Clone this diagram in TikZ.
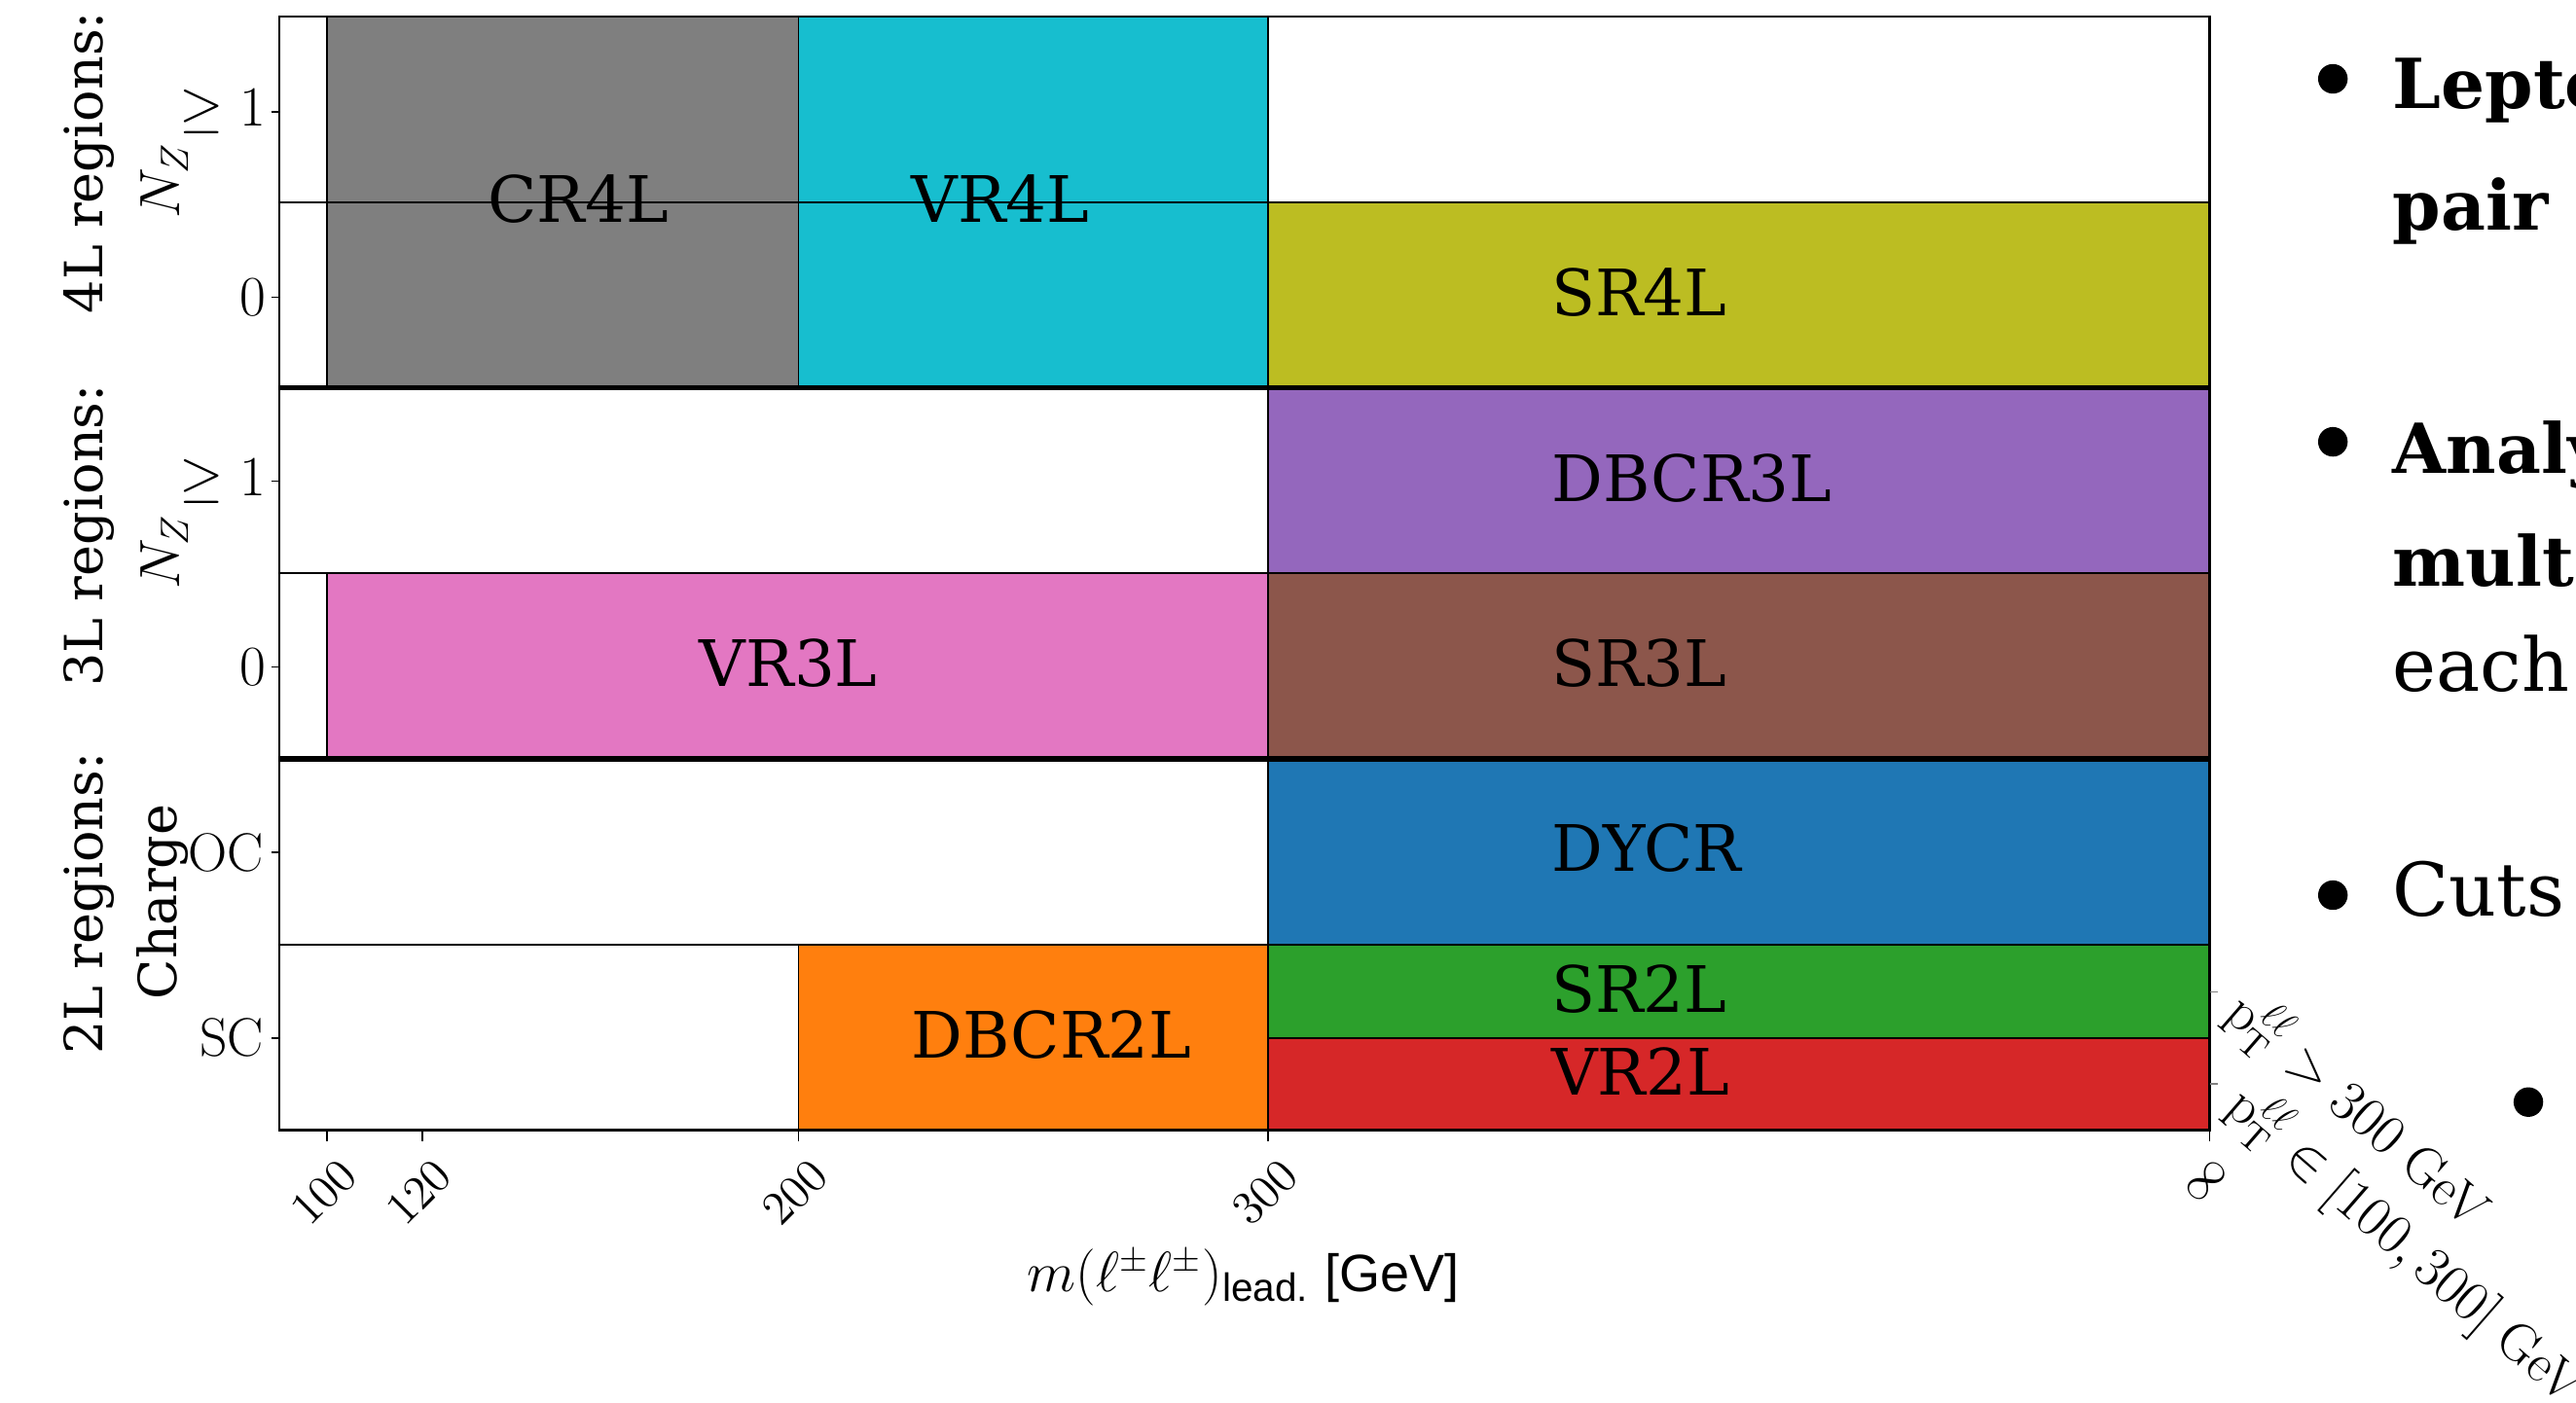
\documentclass[tikz,border=0pt]{standalone}
\usepackage{fontspec}
\newfontfamily\djs{DejaVu Serif}
\newfontfamily\lsans{Liberation Sans}
\definecolor{cgray}{HTML}{7F7F7F}
\definecolor{ccyan}{HTML}{17BECF}
\definecolor{colive}{HTML}{BCBD22}
\definecolor{cpurple}{HTML}{9467BD}
\definecolor{cpink}{HTML}{E377C2}
\definecolor{cbrown}{HTML}{8C564B}
\definecolor{cblue}{HTML}{1F77B4}
\definecolor{corange}{HTML}{FF7F0E}
\definecolor{cgreen}{HTML}{2CA02C}
\definecolor{cred}{HTML}{D62728}
\tikzset{
  region/.style={draw=black, line width=0.5pt},
  thinsep/.style={draw=black, line width=0.6pt},
  thicksep/.style={draw=black, line width=1.6pt},
  frame/.style={draw=black, line width=0.8pt},
  tickmark/.style={draw=black, line width=0.5pt},
  rlabel/.style={font=\djs\fontsize{19.5}{22}\selectfont, inner sep=0pt},
  ytick/.style={font=\fontsize{16.5}{19}\selectfont, anchor=east, inner sep=0pt},
  xtick/.style={font=\fontsize{15}{17}\selectfont, rotate=45, inner sep=0pt},
  grouplab/.style={font=\djs\fontsize{16}{19}\selectfont, rotate=90, inner sep=0pt},
  mathlab/.style={font=\fontsize{16.5}{19}\selectfont, rotate=90, inner sep=0pt},
  ptlab/.style={font=\fontsize{16.5}{19}\selectfont, rotate=-41, anchor=west, inner sep=0pt},
  boldtxt/.style={font=\djs\bfseries\fontsize{21}{25}\selectfont, anchor=base west, inner sep=0pt},
  regtxt/.style={font=\djs\fontsize{22.5}{27}\selectfont, anchor=base west, inner sep=0pt},
  bulletdot/.style={fill=black, circle, inner sep=0pt, minimum size=9pt}
}
\begin{document}
\begin{tikzpicture}[x=0.5pt,y=-0.5pt]
\path[use as bounding box] (0,0) rectangle (1568,854);
\clip (0,0) rectangle (1568,854);
\fill[white] (0,0) rectangle (1568,854);

% coloured regions
\filldraw[region, fill=cgray]   (199,10)  rectangle (486,236);
\filldraw[region, fill=ccyan]   (486,10)  rectangle (772,236);
\filldraw[region, fill=colive]  (772,123) rectangle (1345,236);
\filldraw[region, fill=cpurple] (772,236) rectangle (1345,349);
\filldraw[region, fill=cpink]   (199,349) rectangle (772,462);
\filldraw[region, fill=cbrown]  (772,349) rectangle (1345,462);
\filldraw[region, fill=cblue]   (772,462) rectangle (1345,575);
\filldraw[region, fill=corange] (486,575) rectangle (772,688);
\filldraw[region, fill=cgreen]  (772,575) rectangle (1345,632);
\filldraw[region, fill=cred]    (772,632) rectangle (1345,688);

% separators
\draw[thinsep] (170,123) -- (1345,123);
\draw[thinsep] (170,349) -- (1345,349);
\draw[thinsep] (170,575) -- (1345,575);
\draw[thicksep] (170,236) -- (1345,236);
\draw[thicksep] (170,462) -- (1345,462);
\draw[frame] (170,10) rectangle (1345,688);

% ticks
\foreach \yy in {68,181,293,406,519,632} \draw[tickmark] (165,\yy) -- (170,\yy);
\foreach \xx in {199,257,486,772,1345} \draw[tickmark] (\xx,688) -- (\xx,695);
\draw[tickmark, gray] (1345,604) -- (1350,604);
\draw[tickmark, gray] (1345,660) -- (1350,660);

% region labels
\node[rlabel] (cr4l) at (352,121) {CR4L};
\node[rlabel] (vr4l) at (609,121) {VR4L};
\node[rlabel, anchor=west] (sr4l) at (944,178) {SR4L};
\node[rlabel, anchor=west] (dbcr3l) at (944,291) {DBCR3L};
\node[rlabel] (vr3l) at (480,404) {VR3L};
\node[rlabel, anchor=west] (sr3l) at (944,404) {SR3L};
\node[rlabel, anchor=west] (dycr) at (944,516) {DYCR};
\node[rlabel] (dbcr2l) at (640,630) {DBCR2L};
\node[rlabel, anchor=west] (sr2l) at (944,602) {SR2L};
\node[rlabel, anchor=west] (vr2l) at (944,652) {VR2L};

% y tick labels
\node[ytick] (t4a) at (162,68) {$\geq 1$};
\node[ytick] (t4b) at (162,181) {$0$};
\node[ytick] (t3a) at (162,293) {$\geq 1$};
\node[ytick] (t3b) at (162,406) {$0$};
\node[ytick] (t2a) at (161,519) {$\mathrm{OC}$};
\node[ytick] (t2b) at (161,632) {$\mathrm{SC}$};

% y axis group labels
\node[grouplab] (g4) at (54,99) {4L regions:};
\node[mathlab] (nz4) at (100,110) {$N_Z$};
\node[grouplab] (g3) at (54,326) {3L regions:};
\node[mathlab] (nz3) at (100,336) {$N_Z$};
\node[grouplab] (g2) at (54,550) {2L regions:};
\node[grouplab] (chg) at (99,549) {Charge};

% x tick labels
\node[xtick] (x100) at (197,726) {$100$};
\node[xtick] (x120) at (255,726) {$120$};
\node[xtick] (x200) at (484,726) {$200$};
\node[xtick] (x300) at (770,726) {$300$};
\node[xtick] (xinf) at (1343,719) {$\infty$};

% x axis label
\node[font=\fontsize{16}{19}\selectfont, inner sep=0pt] (xlab) at (757,778)
  {$m(\ell^{\pm}\ell^{\pm})_{\hbox{\lsans\fontsize{12}{14}\selectfont lead.}}$ {\lsans\fontsize{16}{18}\selectfont [GeV]}};

% right tick labels
\node[ptlab] (pta) at (1360,611) {$\mathrm{p}_{\mathrm{T}}^{\ell\ell} > 300$ GeV};
\node[ptlab] (ptb) at (1360,668) {$\mathrm{p}_{\mathrm{T}}^{\ell\ell} \in [100, 300]$ GeV};

% slide text on the right
\node[bulletdot] (b1) at (1420,48) {};
\node[boldtxt] (l1) at (1456,66) {Lepto};
\node[boldtxt] (l2) at (1456,140) {pair};
\node[bulletdot] (b2) at (1420,269) {};
\node[boldtxt] (l3) at (1456,288) {Analy};
\node[boldtxt] (l4) at (1456,357) {mult};
\node[regtxt] (l5) at (1456,421) {each};
\node[bulletdot] (b3) at (1420,545) {};
\node[regtxt] (l6) at (1456,558) {Cuts};
\node[bulletdot] (b4) at (1539,671) {};
\end{tikzpicture}
\end{document}
